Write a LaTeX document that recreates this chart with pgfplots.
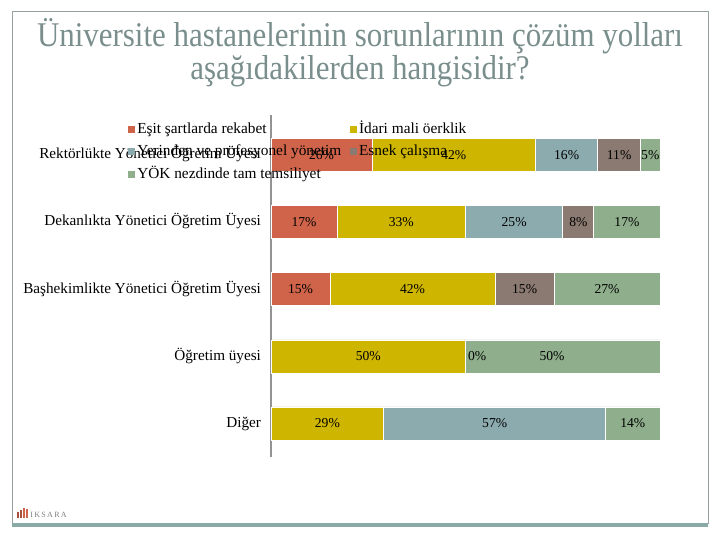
\documentclass[border=0pt]{standalone}
\usepackage{pgfplots}
\pgfplotsset{compat=1.18}
\usepackage{fontspec}
\setmainfont{Liberation Serif}
\definecolor{cRed}{RGB}{208,100,74}
\definecolor{cOlive}{RGB}{205,181,0}
\definecolor{cBlue}{RGB}{139,171,174}
\definecolor{cBrown}{RGB}{139,122,113}
\definecolor{cGreen}{RGB}{143,175,140}
\definecolor{titlegray}{RGB}{122,143,141}
\definecolor{framegray}{RGB}{150,162,162}
\definecolor{tealbar}{RGB}{138,170,168}
\pgfplotsset{
  myleg/.style={legend image code/.code={\fill[##1,draw=none] (0pt,-2.6pt) rectangle (5.25pt,2.6pt);}}
}
\begin{document}
\begin{tikzpicture}[x=0.75pt,y=0.75pt]
\path[fill=white] (0,0) rectangle (720,540);
% frame
\draw[framegray, line width=0.75pt] (12,17) rectangle (708,528);
\fill[tealbar] (12,13) rectangle (708,17.5);
% title
\node[titlegray, font=\fontsize{23.2}{27}\selectfont, anchor=base, inner sep=0pt] at (360,493) {\scalebox{1}[1.12]{Üniversite hastanelerinin sorunlarının çözüm yolları}};
\node[titlegray, font=\fontsize{23.2}{27}\selectfont, anchor=base, inner sep=0pt] at (360,460) {\scalebox{1}[1.12]{aşağıdakilerden hangisidir?}};
% logo
\fill[cRed!80!black] (17,22) rectangle (18.5,28);
\fill[cRed!80!black] (20,22) rectangle (21.5,30);
\fill[cRed] (23,22) rectangle (24.5,32);
\fill[cRed] (26,22) rectangle (27.5,31);
\node[gray, font=\fontsize{6}{7}\selectfont, anchor=base west, inner sep=0pt] at (30,23) {I\,K\,S\,A\,R\,A};
\begin{axis}[
  at={(203.25pt,62.25pt)}, anchor=south west,
  width=291.75pt, height=256.5pt, scale only axis,
  xbar stacked, bar width=24.75pt,
  xmin=0, xmax=100, ymin=-0.6, ymax=4.5, y dir=reverse,
  axis x line=none, axis y line*=left,
  y axis line style={-, draw=gray!85, line width=1.8pt},
  ytick={0,1,2,3,4},
  yticklabels={Rektörlükte Yönetici Öğretim Üyesi, Dekanlıkta Yönetici Öğretim Üyesi, Başhekimlikte Yönetici Öğretim Üyesi, Öğretim üyesi, Diğer},
  major tick length=0pt,
  yticklabel style={font=\fontsize{11.4}{13}\selectfont, xshift=-4pt, text height=8pt, text depth=2.5pt},
  point meta=explicit symbolic,
  nodes near coords,
  every node near coord/.append style={anchor=center, font=\fontsize{10.2}{11}\selectfont, text=black},
  legend columns=2,
  legend cell align=left,
  legend style={at={(-0.3676,0.985)}, anchor=north west, draw=none, fill=none, inner sep=0pt,
    font=\fontsize{11.5}{13}\selectfont,
    nodes={inner sep=1.5pt, text height=8pt, text depth=2.5pt},
    row sep=3.4pt,
    /tikz/every even column/.append style={column sep=5pt}},
  clip=false,
]
\addplot[fill=cRed, draw=white, line width=0.6pt, myleg] coordinates {(26,0)[26\%] (17,1)[17\%] (15.2,2)[15\%] (0,3)[{}] (0,4)[{}]};
\addplot[fill=cOlive, draw=white, line width=0.6pt, myleg] coordinates {(42,0)[42\%] (33,1)[33\%] (42.4,2)[42\%] (50,3)[50\%] (29,4)[29\%]};
\addplot[fill=cBlue, draw=white, line width=0.6pt, myleg] coordinates {(16,0)[16\%] (25,1)[25\%] (0,2)[{}] (0,3)[{}] (57,4)[57\%]};
\addplot[fill=cBrown, draw=white, line width=0.6pt, myleg] coordinates {(11,0)[11\%] (8,1)[8\%] (15.2,2)[15\%] (0,3)[{}] (0,4)[{}]};
\addplot[fill=cGreen, draw=white, line width=0.6pt, myleg] coordinates {(5,0)[5\%] (17,1)[17\%] (27.2,2)[27\%] (50,3)[\llap{0\%\kern40pt}50\%\kern16pt] (14,4)[14\%]};
\legend{Eşit şartlarda rekabet, İdari mali öerklik, Yerinden ve profesyonel yönetim, Esnek çalışma, YÖK nezdinde tam temsiliyet}
\end{axis}
\end{tikzpicture}
\end{document}
